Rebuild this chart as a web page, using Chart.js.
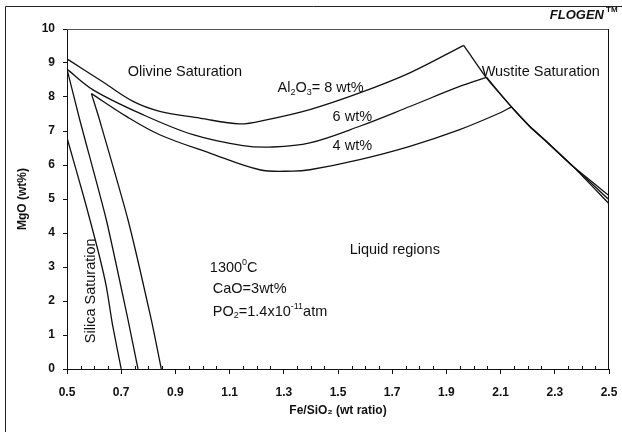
<!DOCTYPE html>
<html>
<head>
<meta charset="utf-8">
<script src="https://cdn.jsdelivr.net/npm/chart.js@4/dist/chart.umd.min.js"></script>
<style>
  html, body { margin: 0; padding: 0; background: #fff; }
  #wrap { width: 622px; height: 432px; }
</style>
</head>
<body>
<div id="wrap"><canvas id="phaseChart" width="622" height="432"></canvas></div>
<script>
// Fe/SiO2 vs MgO liquidus boundaries at 1300 C
// Al2O3 = 8 wt%
const silicaFe8 = [0.700, 0.668, 0.645, 0.614, 0.565, 0.500];
const silicaMgo8 = [0, 1.30, 2.43, 3.50, 4.97, 6.80];
const olivineFe8 = [0.500, 0.633, 0.744, 0.842, 0.990, 1.137, 1.236, 1.396, 1.580, 1.765, 1.964];
const olivineMgo8 = [9.12, 8.44, 7.87, 7.58, 7.38, 7.21, 7.33, 7.63, 8.12, 8.71, 9.52];
const wustiteFe8 = [1.964, 2.048, 2.140, 2.207, 2.269, 2.367, 2.500];
const wustiteMgo8 = [9.52, 8.56, 7.71, 7.14, 6.69, 5.96, 5.10];

// Al2O3 = 6 wt%
const silicaFe6 = [0.762, 0.725, 0.645, 0.547, 0.500];
const silicaMgo6 = [0, 1.45, 4.39, 7.33, 8.82];
const olivineFe6 = [0.500, 0.596, 0.780, 0.965, 1.149, 1.260, 1.396, 1.580, 1.765, 1.949, 2.048];
const olivineMgo6 = [8.82, 8.21, 7.48, 6.89, 6.57, 6.53, 6.65, 7.14, 7.72, 8.31, 8.58];
const wustiteFe6 = [2.048, 2.140, 2.207, 2.269, 2.367, 2.500];
const wustiteMgo6 = [8.58, 7.71, 7.14, 6.69, 5.96, 4.98];

// Al2O3 = 4 wt%
const silicaFe4 = [0.848, 0.811, 0.725, 0.620, 0.590];
const silicaMgo4 = [0, 1.45, 4.39, 7.33, 8.10];
const olivineFe4 = [0.590, 0.719, 0.842, 1.027, 1.211, 1.334, 1.396, 1.580, 1.765, 1.949, 2.097, 2.140];
const olivineMgo4 = [8.10, 7.43, 6.89, 6.35, 5.86, 5.82, 5.86, 6.16, 6.55, 7.04, 7.53, 7.71];
const wustiteFe4 = [2.140, 2.207, 2.269, 2.367, 2.500];
const wustiteMgo4 = [7.71, 7.14, 6.69, 5.96, 4.86];

const seriesNames = ["8 wt%", "6 wt%", "4 wt%"];
const xMajorLabels = ["0.5", "0.7", "0.9", "1.1", "1.3", "1.5", "1.7", "1.9", "2.1", "2.3", "2.5"];

const FONT = "'Liberation Sans', Arial, sans-serif";

function toPoints(xs, ys) {
  return xs.map((x, i) => ({ x: x, y: ys[i] }));
}

function isMajorX(value) {
  return Math.round((value - 0.5) * 100) % 20 === 0;
}

// draws a run of text parts, some as sub/superscripts
function drawRich(ctx, parts, x, y, size) {
  let cx = x;
  parts.forEach((p) => {
    const s = p.sub || p.sup ? Math.round(size * 0.62) : size;
    ctx.font = s + "px " + FONT;
    const dy = p.sub ? size * 0.3 : p.sup ? -size * 0.38 : 0;
    ctx.fillText(p.t, cx, y + dy);
    cx += ctx.measureText(p.t).width;
  });
}

const annotationPlugin = {
  id: "phaseAnnotations",
  afterDraw(chart) {
    const { ctx, chartArea: area, scales } = chart;
    const xs = scales.x;
    const ys = scales.y;
    const px = (v) => xs.getPixelForValue(v);
    const py = (v) => ys.getPixelForValue(v);

    ctx.save();

    // outer frame (only left and top show in the scan)
    ctx.strokeStyle = "#222";
    ctx.lineWidth = 1;
    ctx.beginPath();
    ctx.moveTo(5.5, 432);
    ctx.lineTo(5.5, 6.5);
    ctx.lineTo(622, 6.5);
    ctx.stroke();

    // plot box top and right
    ctx.strokeStyle = "#555";
    ctx.beginPath();
    ctx.moveTo(area.left, area.top + 0.5);
    ctx.lineTo(area.right, area.top + 0.5);
    ctx.stroke();
    ctx.strokeStyle = "#111";
    ctx.beginPath();
    ctx.moveTo(area.right - 0.5, area.top);
    ctx.lineTo(area.right - 0.5, area.bottom);
    ctx.stroke();

    // minor x ticks point inward
    ctx.beginPath();
    xs.ticks.forEach((t) => {
      if (isMajorX(t.value)) return;
      const x = Math.round(px(t.value)) + 0.5;
      ctx.moveTo(x, area.bottom);
      ctx.lineTo(x, area.bottom - 3);
    });
    ctx.stroke();

    ctx.fillStyle = "#111";
    ctx.textBaseline = "middle";
    ctx.textAlign = "left";
    const f = 14.5;

    drawRich(ctx, [{ t: "Olivine Saturation" }], px(0.724), py(8.74), f);
    drawRich(ctx, [{ t: "Al" }, { t: "2", sub: true }, { t: "O" }, { t: "3", sub: true }, { t: "= " + seriesNames[0] }], px(1.277), py(8.27), f);
    drawRich(ctx, [{ t: seriesNames[1] }], px(1.48), py(7.42), f);
    drawRich(ctx, [{ t: seriesNames[2] }], px(1.48), py(6.57), f);
    drawRich(ctx, [{ t: "Wustite Saturation" }], px(2.03), py(8.74), f);
    drawRich(ctx, [{ t: "Liquid regions" }], px(1.543), py(3.51), f);
    drawRich(ctx, [{ t: "1300" }, { t: "0", sup: true }, { t: "C" }], px(1.027), py(2.98), f);
    drawRich(ctx, [{ t: "CaO=3wt%" }], px(1.038), py(2.36), f);
    drawRich(ctx, [{ t: "PO" }, { t: "2", sub: true }, { t: "=1.4x10" }, { t: "-11", sup: true }, { t: "atm" }], px(1.038), py(1.69), f);

    // rotated silica label
    ctx.save();
    ctx.translate(px(0.588), py(2.3));
    ctx.rotate(-Math.PI / 2);
    ctx.textAlign = "center";
    ctx.font = f + "px " + FONT;
    ctx.fillText("Silica Saturation", 0, 0);
    ctx.restore();

    // FLOGEN mark
    ctx.textAlign = "right";
    ctx.font = "italic bold 13px " + FONT;
    ctx.fillText("FLOGEN", 604, 15);
    ctx.textAlign = "left";
    ctx.font = "bold 8px " + FONT;
    ctx.fillText("TM", 606, 10);

    ctx.restore();
  },
};

function boundary(label, xs, ys, tension) {
  return {
    label: label,
    data: toPoints(xs, ys),
    borderColor: "#111",
    borderWidth: 1.3,
    pointRadius: 0,
    tension: tension,
    fill: false,
  };
}

function buildPhaseChart(canvas) {
  return new Chart(canvas, {
    type: "line",
    data: {
      datasets: [
        boundary("silica " + seriesNames[0], silicaFe8, silicaMgo8, 0.2),
        boundary("olivine " + seriesNames[0], olivineFe8, olivineMgo8, 0.35),
        boundary("wustite " + seriesNames[0], wustiteFe8, wustiteMgo8, 0.2),
        boundary("silica " + seriesNames[1], silicaFe6, silicaMgo6, 0.2),
        boundary("olivine " + seriesNames[1], olivineFe6, olivineMgo6, 0.35),
        boundary("wustite " + seriesNames[1], wustiteFe6, wustiteMgo6, 0.2),
        boundary("silica " + seriesNames[2], silicaFe4, silicaMgo4, 0.2),
        boundary("olivine " + seriesNames[2], olivineFe4, olivineMgo4, 0.35),
        boundary("wustite " + seriesNames[2], wustiteFe4, wustiteMgo4, 0.2),
      ],
    },
    options: {
      responsive: false,
      animation: false,
      layout: {
        padding: { top: 29, right: 13, left: 0, bottom: 0 },
      },
      plugins: {
        legend: { display: false },
        tooltip: { enabled: false },
      },
      scales: {
        x: {
          type: "linear",
          min: 0.5,
          max: 2.5,
          afterFit(scale) {
            scale.height = 63;
            scale.paddingLeft = 0;
            scale.paddingRight = 0;
          },
          grid: {
            drawOnChartArea: false,
            tickLength: 5,
            color: (c) => (c.tick && isMajorX(c.tick.value) ? "#111" : "rgba(0,0,0,0)"),
          },
          border: { display: true, color: "#111", width: 1 },
          ticks: {
            stepSize: 0.05,
            autoSkip: false,
            maxRotation: 0,
            padding: 11,
            color: "#111",
            font: { family: FONT, size: 12, weight: "bold" },
            callback(value) {
              if (!isMajorX(value)) return "";
              return xMajorLabels[Math.round((value - 0.5) * 5)];
            },
          },
          title: {
            display: true,
            text: "Fe/SiO\u2082 (wt ratio)",
            color: "#111",
            padding: { top: 0, bottom: 14 },
            font: { family: FONT, size: 12, weight: "bold" },
          },
        },
        y: {
          min: 0,
          max: 10,
          afterFit(scale) {
            scale.width = 67;
          },
          grid: {
            drawOnChartArea: false,
            tickLength: 4,
            color: "#111",
          },
          border: { display: true, color: "#111", width: 1 },
          ticks: {
            stepSize: 1,
            padding: 8,
            color: "#111",
            font: { family: FONT, size: 12, weight: "bold" },
          },
          title: {
            display: true,
            text: "MgO (wt%)",
            color: "#111",
            padding: { top: 15, bottom: 0 },
            font: { family: FONT, size: 12, weight: "bold" },
          },
        },
      },
    },
    plugins: [annotationPlugin],
  });
}

const phaseCanvas = document.getElementById("phaseChart");
if (phaseCanvas) {
  buildPhaseChart(phaseCanvas);
}
</script>
</body>
</html>
